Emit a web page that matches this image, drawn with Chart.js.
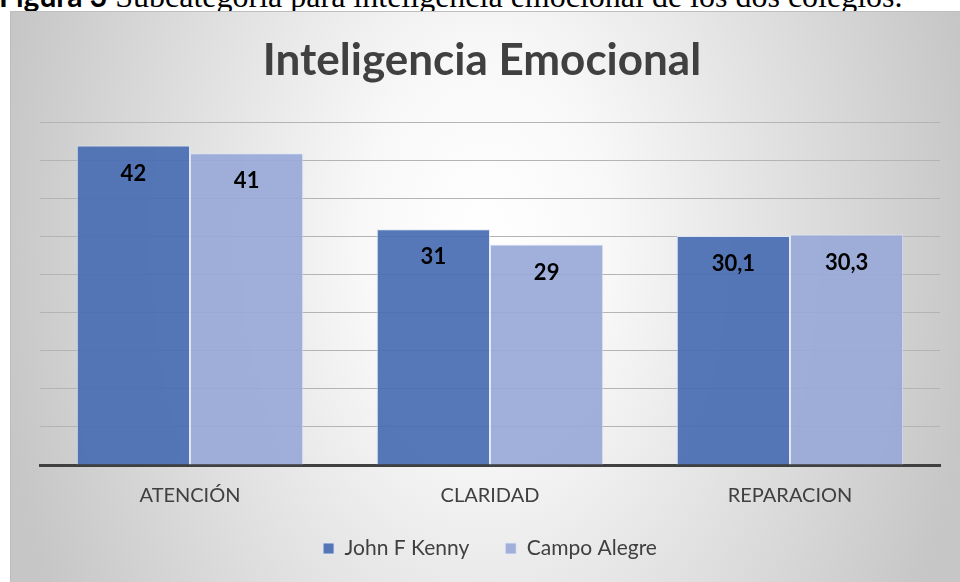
<!DOCTYPE html>
<html>
<head>
<meta charset="utf-8">
<script src="https://cdn.jsdelivr.net/npm/chart.js@4.4.1/dist/chart.umd.min.js"></script>
<style>
  html, body { margin: 0; padding: 0; background: #ffffff; }
  body { width: 960px; height: 582px; position: relative; overflow: hidden; }
  #caption {
    position: absolute; left: -1px; top: -21px; white-space: nowrap;
    font-family: "Liberation Serif", "Times New Roman", serif; font-size: 32px; color: #000;
    line-height: 32px;
  }
  #caption b { font-family: Lato, sans-serif; font-size: 30px; font-weight: bold; }
  #box {
    position: absolute; left: 10px; top: 11px; width: 950px; height: 571px;
    background: radial-gradient(ellipse 52% 130% at 50% 40%, #ffffff 0%, #f8f8f8 25%, #c6c6c6 100%);
    box-shadow: inset 1px 1px 0 #bdbdbd;
  }
  #box canvas { position: absolute; left: 0; top: 0; }
</style>
</head>
<body>
<div id="caption"><b>Figura 3</b> Subcategoría para inteligencia emocional de los dos colegios.</div>
<div id="box"><canvas id="c" width="950" height="571"></canvas></div>
<script>
const categories = ["ATENCIÓN", "CLARIDAD", "REPARACION"];
const seriesNames = ["John F Kenny", "Campo Alegre"];
const johnValues = [42, 31, 30.1];
const campoValues = [41, 29, 30.3];
const titleText = "Inteligencia Emocional";

const fmt = v => String(v).replace('.', ',');

const valueLabels = {
  id: 'valueLabels',
  afterDatasetsDraw(chart) {
    const ctx = chart.ctx;
    ctx.save();
    ctx.font = 'bold 22px Lato';
    ctx.fillStyle = '#000000';
    ctx.textAlign = 'center';
    ctx.textBaseline = 'middle';
    chart.data.datasets.forEach((ds, i) => {
      chart.getDatasetMeta(i).data.forEach((bar, j) => {
        ctx.fillText(fmt(ds.data[j]), bar.x, bar.y + 28);
      });
    });
    ctx.restore();
  }
};

Chart.defaults.font.family = 'Lato';
Chart.defaults.color = '#404040';

new Chart(document.getElementById('c'), {
  type: 'bar',
  data: {
    labels: categories,
    datasets: [
      {
        label: seriesNames[0],
        data: johnValues,
        backgroundColor: 'rgba(72,108,178,0.92)',
        borderColor: 'rgba(225,232,248,0.9)',
        borderWidth: 1,
        categoryPercentage: 0.755,
        barPercentage: 1.0
      },
      {
        label: seriesNames[1],
        data: campoValues,
        backgroundColor: 'rgba(153,169,216,0.92)',
        borderColor: 'rgba(225,232,248,0.9)',
        borderWidth: 1,
        categoryPercentage: 0.755,
        barPercentage: 1.0
      }
    ]
  },
  options: {
    responsive: false,
    animation: false,
    events: [],
    layout: { padding: { left: 14, right: 20, top: 0, bottom: 13 } },
    plugins: {
      title: {
        display: true,
        text: titleText,
        color: '#404040',
        font: { size: 44, weight: 'bold', family: 'Lato', lineHeight: 1.2 },
        padding: { top: 23, bottom: 36 }
      },
      legend: {
        position: 'bottom',
        fullSize: false,
        labels: {
          boxWidth: 11,
          boxHeight: 11,
          padding: 36,
          color: '#404040',
          font: { size: 21, family: 'Lato' }
        }
      },
      tooltip: { enabled: false }
    },
    scales: {
      x: {
        grid: { display: false, drawTicks: false },
        border: { display: true, color: '#404040', width: 3 },
        ticks: { padding: 19, color: '#404040', font: { size: 20, family: 'Lato' } },
        afterFit: s => { s.height = 37; }
      },
      y: {
        min: 0,
        max: 45,
        ticks: { display: false, stepSize: 5 },
        grid: { color: '#b4b4b4', lineWidth: 1, drawTicks: false },
        border: { display: false },
        afterFit: s => { s.width = 16; }
      }
    }
  },
  plugins: [valueLabels]
});
</script>
</body>
</html>
